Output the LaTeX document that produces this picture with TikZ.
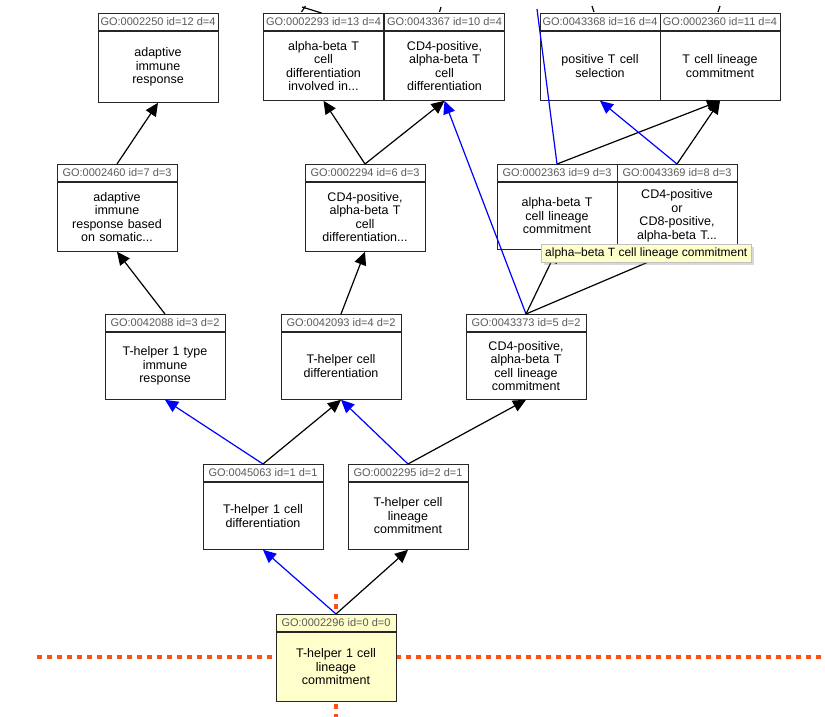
\documentclass[tikz,border=0pt]{standalone}
\usepackage{fontspec}
\setmainfont{Liberation Sans}
\usetikzlibrary{arrows.meta, shadows}
\definecolor{hdrtext}{RGB}{90,90,90}
\definecolor{selfill}{RGB}{255,255,204}
\definecolor{redline}{RGB}{255,80,20}
\tikzset{
  hdr/.style={draw=black!85, line width=0.9pt, minimum width=120pt, minimum height=17pt, inner sep=0pt,
    font=\fontsize{11}{12}\selectfont, text=hdrtext, anchor=north},
  body/.style={draw=black!85, line width=0.9pt, minimum width=120pt, inner sep=0pt, anchor=north,
    font=\fontsize{12.5}{13.5}\selectfont, align=center, text width=114pt},
  isa/.style={-{Triangle[length=13pt,width=12pt]}, black, line width=1.2pt},
  partof/.style={-{Triangle[length=13pt,width=12pt]}, blue, line width=1.2pt},
  cut/.style={redline, line width=4.5pt, dash pattern=on 4.5pt off 5.5pt}
}
% \gonode{name}{centre x}{top y}{body height}{header}{text}{fill}
\newcommand{\gonode}[7]{%
  \node[hdr, fill=#7] (h#1) at (#2,#3) {#5};
  \node[body, fill=#7, minimum height=#4pt] (b#1) at (h#1.south) {#6};
}
\begin{document}
\begin{tikzpicture}[x=1pt, y=-1pt]
\useasboundingbox (0,0) rectangle (825,717);

% cut lines
\draw[cut] (37,657) -- (276,657);
\draw[cut] (396,657) -- (825,657);
\draw[cut] (336,594) -- (336,610);
\draw[cut] (336,704) -- (336,717);

% terms
\gonode{2250}{158}{13}{71}{GO:0002250 id=12 d=4}{adaptive\\immune\\response}{white}
\gonode{2293}{323.5}{13}{69}{GO:0002293 id=13 d=4}{alpha-beta T\\cell\\differentiation\\involved in...}{white}
\gonode{3367}{444.5}{13}{69}{GO:0043367 id=10 d=4}{CD4-positive,\\alpha-beta T\\cell\\differentiation}{white}
\gonode{3368}{600}{13}{69}{GO:0043368 id=16 d=4}{positive T cell\\selection}{white}
\gonode{2360}{720}{13}{69}{GO:0002360 id=11 d=4}{T cell lineage\\commitment}{white}
\gonode{2460}{117}{164}{69}{GO:0002460 id=7 d=3}{adaptive\\immune\\response based\\on somatic...}{white}
\gonode{2294}{365}{164}{69}{GO:0002294 id=6 d=3}{CD4-positive,\\alpha-beta T\\cell\\differentiation...}{white}
\gonode{2363}{557}{164}{67}{GO:0002363 id=9 d=3}{alpha-beta T\\cell lineage\\commitment}{white}
\gonode{3369}{677}{164}{67}{GO:0043369 id=8 d=3}{CD4-positive\\or\\CD8-positive,\\alpha-beta T...}{white}
\gonode{2088}{165}{314}{67}{GO:0042088 id=3 d=2}{T-helper 1 type\\immune\\response}{white}
\gonode{2093}{341}{314}{67}{GO:0042093 id=4 d=2}{T-helper cell\\differentiation}{white}
\gonode{3373}{526}{314}{67}{GO:0043373 id=5 d=2}{CD4-positive,\\alpha-beta T\\cell lineage\\commitment}{white}
\gonode{5063}{263}{464}{67}{GO:0045063 id=1 d=1}{T-helper 1 cell\\differentiation}{white}
\gonode{2295}{408}{464}{67}{GO:0002295 id=2 d=1}{T-helper cell\\lineage\\commitment}{white}
\gonode{2296}{336}{614}{69}{GO:0002296 id=0 d=0}{T-helper 1 cell\\lineage\\commitment}{selfill}

% edges leaving the top of the picture (short stubs)
\coordinate (up2293) at (302,7);
\coordinate (up3367) at (441,7);
\coordinate (up2363) at (537,9);
\draw[black, line width=1.2pt] (h2293.north) ++(-2,0) -- (up2293);
\draw[black, line width=1.2pt] (h2293.north) ++(-22,-1) -- ++(4,-6);
\draw[black, line width=1.2pt] (h3367.north) ++(-5,-1) -- (up3367);
\draw[black, line width=1.2pt] (h3368.north) ++(-6,-1) -- ++(-2,-6);
\draw[black, line width=1.2pt] (h2360.north) ++(-2,-1) -- ++(2,-6);
\draw[blue, line width=1.2pt] (h2363.north) -- (up2363);

% relations
\draw[partof] (h2296.north) -- (b5063.south);
\draw[isa] (h2296.north) -- (b2295.south);
\draw[partof] (h5063.north) -- (b2088.south);
\draw[isa] (h5063.north) -- (b2093.south);
\draw[partof] (h2295.north) -- (b2093.south);
\draw[isa] (h2295.north) -- (b3373.south);
\draw[isa] (h2088.north) -- (b2460.south);
\draw[isa] (h2460.north) -- (b2250.south);
\draw[isa] (h2093.north) -- (b2294.south);
\draw[isa] (h2294.north) -- (b2293.south);
\draw[isa] (h2294.north) -- (b3367.south);
\draw[partof] (h3373.north) -- (b3367.south);
\draw[isa] (h3373.north) -- (b2363.south);
\draw[isa] (h3373.north) -- (b3369.south);
\draw[isa] (h2363.north) -- (b2360.south);
\draw[partof] (h3369.north) -- (b3368.south);
\draw[isa] (h3369.north) -- (b2360.south);

% tooltip
\node[draw=black!25, fill=selfill, drop shadow={opacity=0.3}, inner xsep=4pt, inner ysep=3.5pt,
  font=\fontsize{12}{13}\selectfont, anchor=north west] (tip) at (541,244)
  {alpha{\textendash}beta T cell lineage commitment};
\end{tikzpicture}
\end{document}
